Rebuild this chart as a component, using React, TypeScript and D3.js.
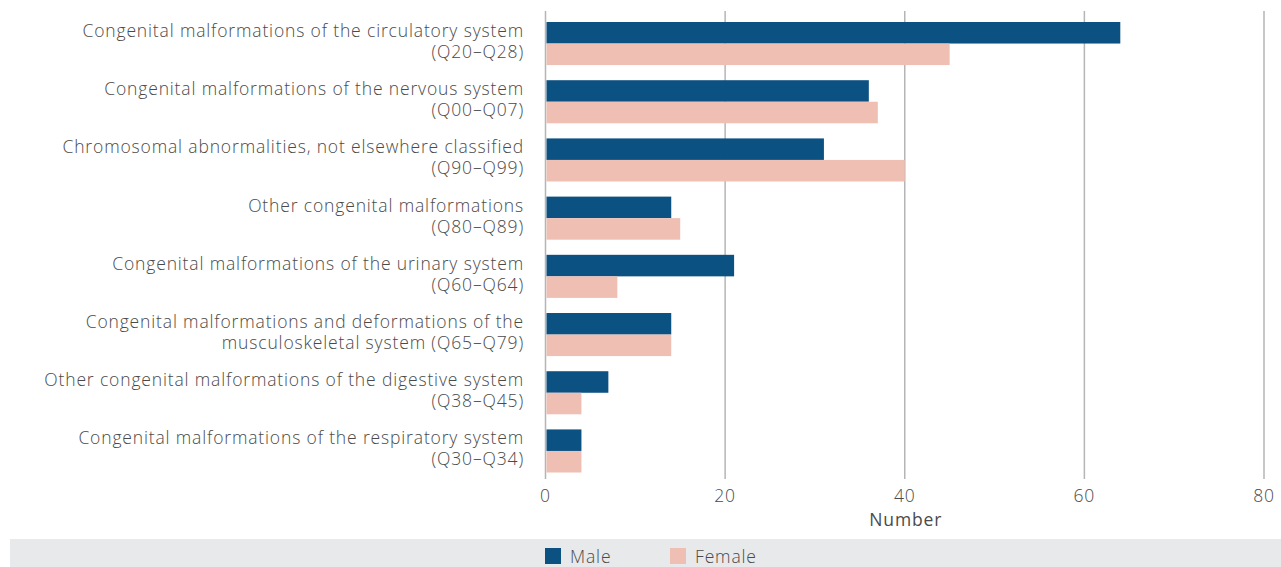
import React from 'react';
import * as d3 from 'd3';

const categories = [
  ['Congenital malformations of the circulatory system', '(Q20–Q28)'],
  ['Congenital malformations of the nervous system', '(Q00–Q07)'],
  ['Chromosomal abnormalities, not elsewhere classified', '(Q90–Q99)'],
  ['Other congenital malformations', '(Q80–Q89)'],
  ['Congenital malformations of the urinary system', '(Q60–Q64)'],
  ['Congenital malformations and deformations of the', 'musculoskeletal system (Q65–Q79)'],
  ['Other congenital malformations of the digestive system', '(Q38–Q45)'],
  ['Congenital malformations of the respiratory system', '(Q30–Q34)'],
];
const male = [64, 36, 31, 14, 21, 14, 7, 4];
const female = [45, 37, 40, 15, 8, 14, 4, 4];
const seriesNames = ['Male', 'Female'];
const seriesColors = ['#0b5182', '#eebfb2'];
const xTicks = [0, 20, 40, 60, 80];

const W = 1281;
const H = 567;
const FONT = '"Open Sans", "Noto Sans", sans-serif';
const TEXT = '#4a4a4a';

const App = () => {
  const keys = categories.map((c) => c.join(' '));
  const x = d3.scaleLinear().domain([0, 80]).range([545.5, 1264]);
  const y = d3.scaleBand().domain(keys).range([22, 472.5]).paddingInner(0.26).paddingOuter(0);
  const ySub = d3.scaleBand().domain(seriesNames).range([0, y.bandwidth()]);
  const values = [male, female];

  return (
    <svg width={W} height={H} style={{ position: 'absolute', left: 0, top: 0 }} fontFamily={FONT} letterSpacing={0.85}>
      {xTicks.map((t) => (
        <line key={t} x1={x(t)} x2={x(t)} y1={11} y2={479} stroke="#b5b5b5" strokeWidth={1.5} />
      ))}
      {keys.map((k, i) => (
        <g key={k} transform={`translate(0,${y(k)})`}>
          {seriesNames.map((s, j) => (
            <rect
              key={s}
              x={x(0) + 1}
              y={ySub(s)}
              width={x(values[j][i]) - x(0) - 1}
              height={ySub.bandwidth()}
              fill={seriesColors[j]}
            />
          ))}
          <text textAnchor="end" fontSize={17.5} fill={TEXT} fontWeight={300}>
            <tspan x={524} y={y.bandwidth() / 2 - 6.5}>{categories[i][0]}</tspan>
            <tspan x={524} y={y.bandwidth() / 2 + 14.5}>{categories[i][1]}</tspan>
          </text>
        </g>
      ))}
      {xTicks.map((t) => (
        <text key={t} x={x(t)} y={502} textAnchor="middle" fontSize={17.5} fill={TEXT} fontWeight={300}>
          {t}
        </text>
      ))}
      <text x={(x(0) + x(80)) / 2 + 1} y={526} textAnchor="middle" fontSize={17.5} fill={TEXT} fontWeight={500}>
        Number
      </text>
      <rect x={10} y={539} width={W - 10} height={H - 539} fill="#e8e9ea" />
      {seriesNames.map((s, j) => {
        const lx = j === 0 ? 545 : 670;
        return (
          <g key={s}>
            <rect x={lx} y={548} width={16} height={16} fill={seriesColors[j]} />
            <text x={lx + 25} y={563} fontSize={17.5} fill={TEXT} fontWeight={300}>
              {s}
            </text>
          </g>
        );
      })}
    </svg>
  );
};

export default App;
